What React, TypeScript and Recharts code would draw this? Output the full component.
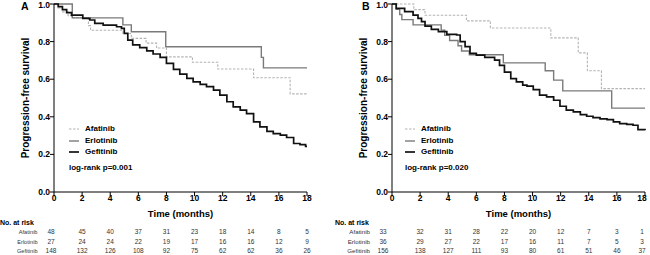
import { LineChart, Line, XAxis, YAxis, Legend, Label } from "recharts";

type Pt = [number, number];

const MONTH_TICKS = [0, 2, 4, 6, 8, 10, 12, 14, 16, 18];
const SURV_TICKS = [0, 0.2, 0.4, 0.6, 0.8, 1.0];
const DRUGS = ["Afatinib", "Erlotinib", "Gefitinib"];

// panel A curves: [month, survival]
const afatinibA: Pt[] = [
  [0, 1], [0.3, 0.979], [0.6, 0.958], [1.0, 0.938], [1.25, 0.927], [2.45, 0.885],
  [2.6, 0.86], [4.9, 0.843], [5.5, 0.817], [6.55, 0.792], [7.3, 0.766], [8.0, 0.719],
  [9.85, 0.69], [11.65, 0.654], [14.2, 0.608], [16.8, 0.522], [18, 0.522],
];
const erlotinibA: Pt[] = [
  [0, 1], [1.3, 0.926], [4.9, 0.889], [5.5, 0.852], [7.95, 0.773], [14.75, 0.716],
  [14.9, 0.66], [18, 0.66],
];
const gefitinibA: Pt[] = [
  [0, 1], [0.3, 0.986], [0.6, 0.97], [0.9, 0.954], [1.25, 0.941], [2.05, 0.924],
  [2.55, 0.915], [2.9, 0.897], [3.5, 0.888], [4.45, 0.879], [4.8, 0.87], [5.0, 0.844],
  [5.25, 0.808], [5.6, 0.783], [6.1, 0.768], [6.6, 0.751], [7.05, 0.734], [7.55, 0.716],
  [8.0, 0.684], [8.5, 0.652], [8.95, 0.627], [9.45, 0.604], [9.9, 0.586], [10.4, 0.572],
  [10.85, 0.56], [11.35, 0.542], [11.8, 0.515], [12.3, 0.48], [12.75, 0.453],
  [13.25, 0.435], [13.7, 0.417], [14.2, 0.373], [14.65, 0.346], [15.15, 0.323],
  [15.6, 0.311], [16.1, 0.302], [16.55, 0.29], [17.05, 0.258], [17.5, 0.252],
  [17.9, 0.243], [18, 0.243],
];

// panel B curves
const afatinibB: Pt[] = [
  [0, 1], [1.55, 0.97], [2.35, 0.94], [5.3, 0.91], [7.0, 0.872], [11.3, 0.82],
  [13.25, 0.74], [13.9, 0.645], [14.9, 0.55], [18, 0.55],
];
const erlotinibB: Pt[] = [
  [0, 1], [0.3, 0.972], [0.55, 0.944], [0.7, 0.917], [1.5, 0.889], [3.5, 0.861],
  [3.75, 0.833], [4.1, 0.806], [4.7, 0.778], [4.95, 0.75], [5.5, 0.73], [7.92, 0.687],
  [10.9, 0.645], [11.5, 0.595], [12.15, 0.538], [15.63, 0.446], [18, 0.446],
];
const gefitinibB: Pt[] = [
  [0, 1], [0.3, 0.977], [0.9, 0.959], [1.5, 0.941], [1.85, 0.924], [2.1, 0.906],
  [2.35, 0.882], [2.8, 0.865], [3.3, 0.853], [3.9, 0.838], [4.6, 0.835], [4.85, 0.8],
  [5.2, 0.773], [5.55, 0.737], [6.0, 0.728], [6.6, 0.716], [7.3, 0.701], [7.65, 0.674],
  [8.0, 0.638], [8.45, 0.603], [8.85, 0.586], [9.3, 0.568], [9.6, 0.563], [10.05, 0.545],
  [10.5, 0.515], [11.0, 0.506], [11.5, 0.488], [11.95, 0.456], [12.4, 0.435],
  [12.9, 0.426], [13.4, 0.412], [13.85, 0.403], [14.3, 0.396], [14.8, 0.389],
  [15.3, 0.385], [15.75, 0.373], [16.2, 0.364], [16.7, 0.36], [17.15, 0.355],
  [17.5, 0.332], [18, 0.329],
];

// numbers at risk
const riskAfatinibA = [48, 45, 40, 37, 31, 23, 18, 14, 8, 5];
const riskErlotinibA = [27, 24, 24, 22, 19, 17, 16, 16, 12, 9];
const riskGefitinibA = [148, 132, 126, 108, 92, 75, 62, 62, 36, 26];
const riskAfatinibB = [33, 32, 31, 28, 22, 20, 12, 7, 3, 1];
const riskErlotinibB = [36, 29, 27, 22, 17, 16, 11, 7, 5, 3];
const riskGefitinibB = [156, 138, 127, 111, 93, 80, 61, 51, 46, 37];

const STYLE: Record<string, { stroke: string; width: number; dash?: string }> = {
  Afatinib: { stroke: "#b3b3b3", width: 1.1, dash: "2.5 1.5" },
  Erlotinib: { stroke: "#7a7a7a", width: 1.4 },
  Gefitinib: { stroke: "#111111", width: 1.7 },
};

const FONT = '"Liberation Sans", Arial, sans-serif';

const toRows = (pts: Pt[]) => pts.map(([t, s]) => ({ t, s }));

function RiskTick(props: any) {
  const { x, y, payload, risk, labelGap, firstShift, labelFont, headLeft } = props;
  const i = MONTH_TICKS.indexOf(payload.value);
  const cx = i === 0 ? x + firstShift : x;
  return (
    <g fontFamily={FONT}>
      <text x={x} y={y + 3} textAnchor="middle" fontSize={8.5} fontWeight="bold" fill="#000">
        {payload.value}
      </text>
      {i === 0 && (
        <text x={headLeft} y={y + 26.5} fontSize={7} fontWeight="bold" fill="#000">
          No. at risk
        </text>
      )}
      {risk.map((row: number[], r: number) => (
        <g key={r}>
          {i === 0 && (
            <text x={x - labelGap} y={y + 36 + r * 9.5} textAnchor="end" fontSize={labelFont} fill="#333">
              {DRUGS[r]}
            </text>
          )}
          <text x={cx} y={y + 36 + r * 9.5} textAnchor="middle" fontSize={6.5} fill="#333">
            {row[i]}
          </text>
        </g>
      ))}
    </g>
  );
}

interface PanelProps {
  letter: string;
  curves: Pt[][];
  risk: number[][];
  pText: string;
  left: number;
  width: number;
  marginLeft: number;
  marginRight: number;
  legendLeft: number;
  labelGap: number;
  firstShift: number;
  labelFont: number;
  headLeft: number;
  letterLeft: number;
}

function Panel(p: PanelProps) {
  return (
    <div style={{ position: "absolute", left: p.left, top: 0, width: p.width, height: 255 }}>
      <LineChart
        width={p.width}
        height={255}
        margin={{ top: 4, right: p.marginRight, bottom: 0, left: p.marginLeft }}
      >
        <XAxis
          dataKey="t"
          type="number"
          domain={[0, 18]}
          ticks={MONTH_TICKS}
          height={63}
          tickSize={4}
          stroke="#000"
          allowDuplicatedCategory={false}
          tick={
            <RiskTick
              risk={p.risk}
              labelGap={p.labelGap}
              firstShift={p.firstShift}
              labelFont={p.labelFont}
              headLeft={p.headLeft}
            />
          }
        >
          <Label
            content={({ viewBox }: any) => (
              <text
                x={viewBox.x + viewBox.width / 2}
                y={viewBox.y + 24.5}
                textAnchor="middle"
                fontFamily={FONT}
                fontSize={9.5}
                fontWeight="bold"
              >
                Time (months)
              </text>
            )}
          />
        </XAxis>
        <YAxis
          type="number"
          domain={[0, 1]}
          ticks={SURV_TICKS}
          width={30}
          tickSize={4}
          tickMargin={0}
          stroke="#000"
          tickFormatter={(v: number) => v.toFixed(1)}
          tick={{ fontSize: 8.5, fontWeight: "bold", fill: "#000", fontFamily: FONT }}
        >
          <Label
            content={({ viewBox }: any) => {
              const cx = viewBox.x + 1;
              const cy = viewBox.y + viewBox.height / 2;
              return (
                <text
                  x={cx}
                  y={cy}
                  transform={`rotate(-90 ${cx} ${cy})`}
                  textAnchor="middle"
                  dominantBaseline="central"
                  fontFamily={FONT}
                  fontSize={10}
                  fontWeight="bold"
                >
                  Progression-free survival
                </text>
              );
            }}
          />
        </YAxis>
        <Legend
          layout="vertical"
          align="center"
          verticalAlign="middle"
          wrapperStyle={{ left: p.legendLeft, top: 123, width: 100, height: 50 }}
          content={() => (
            <div style={{ fontFamily: FONT, fontSize: 8, fontWeight: "bold", lineHeight: "11.5px" }}>
              {DRUGS.map((d) => (
                <div key={d} style={{ display: "flex", alignItems: "center", height: 11.5 }}>
                  <svg width={16} height={11.5}>
                    <line
                      x1={0}
                      x2={10}
                      y1={6}
                      y2={6}
                      stroke={STYLE[d].stroke}
                      strokeWidth={STYLE[d].width}
                      strokeDasharray={STYLE[d].dash}
                    />
                  </svg>
                  <span>{d}</span>
                </div>
              ))}
              <div style={{ marginTop: 4.5 }}>log-rank {p.pText}</div>
            </div>
          )}
        />
        {p.curves.map((c, k) => (
          <Line
            key={DRUGS[k]}
            name={DRUGS[k]}
            data={toRows(c)}
            dataKey="s"
            type="stepAfter"
            dot={false}
            activeDot={false}
            stroke={STYLE[DRUGS[k]].stroke}
            strokeWidth={STYLE[DRUGS[k]].width}
            strokeDasharray={STYLE[DRUGS[k]].dash}
            isAnimationActive={false}
          />
        ))}
      </LineChart>
      <div
        style={{
          position: "absolute",
          left: p.letterLeft,
          top: 0,
          fontFamily: FONT,
          fontSize: 10.5,
          fontWeight: "bold",
          lineHeight: "12px",
        }}
      >
        {p.letter}
      </div>
    </div>
  );
}

export default function App() {
  return (
    <div style={{ position: "absolute", left: 0, top: 0, width: 650, height: 255, background: "#fff", overflow: "hidden" }}>
      <Panel
        letter="A"
        curves={[afatinibA, erlotinibA, gefitinibA]}
        risk={[riskAfatinibA, riskErlotinibA, riskGefitinibA]}
        pText="p=0.001"
        left={0}
        width={320}
        marginLeft={24}
        marginRight={13}
        legendLeft={69}
        labelGap={16.5}
        firstShift={-3}
        labelFont={5.6}
        headLeft={0}
        letterLeft={21}
      />
      <Panel
        letter="B"
        curves={[afatinibB, erlotinibB, gefitinibB]}
        risk={[riskAfatinibB, riskErlotinibB, riskGefitinibB]}
        pText="p=0.020"
        left={320}
        width={330}
        marginLeft={42}
        marginRight={5}
        legendLeft={85}
        labelGap={22}
        firstShift={-9}
        labelFont={6.2}
        headLeft={15}
        letterLeft={42}
      />
    </div>
  );
}
